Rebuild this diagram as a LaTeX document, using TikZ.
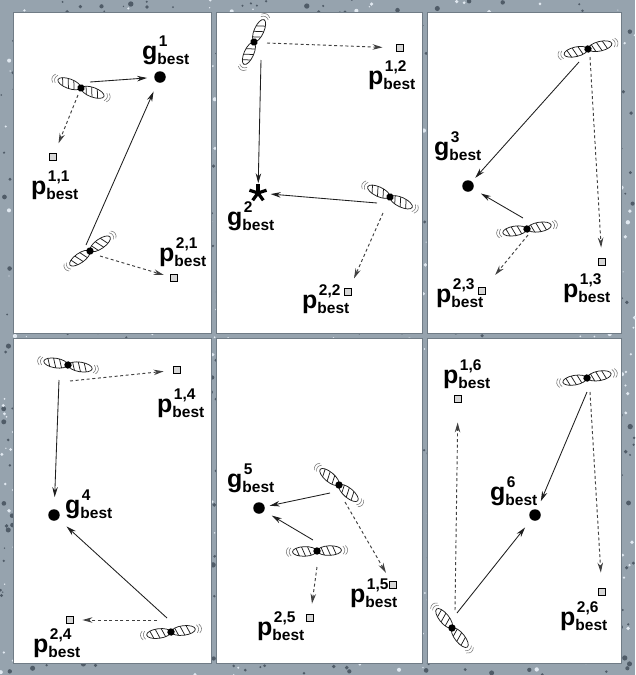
\documentclass[tikz,border=0pt]{standalone}
\usepackage{fontspec}
\setmainfont{Liberation Sans}
\usetikzlibrary{arrows.meta,calc}

\definecolor{framegray}{RGB}{150,163,174}
\definecolor{darkspeck}{RGB}{80,92,104}
\definecolor{lightspeck}{RGB}{224,232,240}
\definecolor{panelline}{RGB}{112,124,134}
\definecolor{ink}{RGB}{30,30,30}
\definecolor{boxfill}{RGB}{215,215,215}

% label of the form  letter^{sup}_{best}
\newcommand\bestlabel[2]{\fontsize{25}{25}\selectfont#1\fontsize{15.5}{15.5}\selectfont\rlap{\kern1.5pt\raisebox{12.5pt}{#2}}\raisebox{-5pt}{best}}

\tikzset{
  panel/.style={fill=white, draw=panelline, line width=1pt},
  gdot/.style={circle, fill=black, minimum size=11.5pt, inner sep=0pt},
  gstar/.style={circle, minimum size=17pt, inner sep=0pt},
  pbox/.style={rectangle, draw=black, fill=boxfill, line width=1.4pt, minimum size=7.5pt, inner sep=0pt},
  agent/.style={circle, minimum size=8pt, inner sep=0pt},
  lbl/.style={anchor=base west, inner sep=0pt, font=\bfseries},
  pull/.style={draw=ink, line width=0.85pt, -{Stealth[length=10pt,width=5.5pt]}},
  memory/.style={draw=ink!85, line width=0.95pt, dash pattern=on 3pt off 2.6pt, -{Stealth[length=10pt,width=5.5pt]}},
  wingline/.style={draw=ink, line width=0.75pt},
  hatch/.style={draw=ink, line width=0.75pt},
  trail/.style={draw=ink!60, line width=0.55pt},
  bird/.pic={
    \foreach \s in {-1,1}{
      \begin{scope}[xshift=\s*12.5pt]
        \draw[wingline] (0,0) ellipse [x radius=12, y radius=4.8];
        \clip (0,0) ellipse [x radius=12, y radius=4.8];
        \draw[hatch] (-9,-5) -- (-5,5) (-3,-5) -- (1,5) (3,-5) -- (7,5);
      \end{scope}
    }
    \draw[trail] (26,-4) .. controls (28.5,-1.5) and (28.5,1.5) .. (26,4);
    \draw[trail] (28.5,-4.5) .. controls (31.5,-1.5) and (31.5,1.5) .. (28.5,4.5);
    \draw[trail] (-26,-4) .. controls (-28.5,-1.5) and (-28.5,1.5) .. (-26,4);
    \draw[trail] (-28.5,-4.5) .. controls (-31.5,-1.5) and (-31.5,1.5) .. (-28.5,4.5);
    \fill[black] (0,0) circle (3.7);
  }
}

\begin{document}
\begin{tikzpicture}[x=1pt,y=-1pt]
\useasboundingbox (0,0) rectangle (635,675);

% speckled frame
\fill[framegray] (0,0) rectangle (635,675);
\pgfmathsetseed{11}
\foreach \i in {1,...,1100}{
  \pgfmathsetmacro\rx{rnd*635}
  \pgfmathsetmacro\ry{rnd*675}
  \pgfmathsetmacro\rr{0.8+rnd*1.9}
  \fill[darkspeck] (\rx,\ry) circle (\rr);
}
\foreach \i in {1,...,900}{
  \pgfmathsetmacro\rx{rnd*635}
  \pgfmathsetmacro\ry{rnd*675}
  \pgfmathsetmacro\rr{0.6+rnd*1.6}
  \fill[lightspeck] (\rx,\ry) circle (\rr);
}

% six panels
\path[panel] (13,12) rectangle (211,333);
\path[panel] (216,12) rectangle (422,333);
\path[panel] (427,12) rectangle (621,333);
\path[panel] (13,338) rectangle (211,663);
\path[panel] (216,338) rectangle (422,663);
\path[panel] (427,338) rectangle (621,663);

% ---------- panel 1 ----------
\node[gdot] (g1) at (160,77) {};
\node[pbox] (p11) at (53,157) {};
\node[pbox] (p21) at (174,278) {};
\node[agent] (a1) at (81,88) {};
\node[agent] (b1) at (90,251) {};
\pic[rotate=-20] at (a1) {bird};
\pic[rotate=35] at (b1) {bird};
\node[lbl] (lg1) at (142,59) {\bestlabel{g}{1}};
\node[lbl] (lp11) at (31,194) {\bestlabel{p}{1,1}};
\node[lbl] (lp21) at (159,261) {\bestlabel{p}{2,1}};
\draw[pull, shorten >=7pt] ($(a1)+(9,-6)$) -- (g1);
\draw[memory, shorten >=10pt] ($(a1)+(-3,7)$) -- (p11);
\draw[pull, shorten >=10pt] ($(b1)+(-4,-6)$) -- (g1);
\draw[memory, shorten >=6pt] ($(b1)+(10,5)$) -- (p21);

% ---------- panel 2 ----------
\node[gstar] (g2) at (258,193) {};
\foreach \a in {-90,-18,54,126,198}
  \draw[line width=3.2pt, black] (g2.center) -- ++(\a:9);
\node[pbox] (p12) at (400,48) {};
\node[pbox] (p22) at (348,292) {};
\node[agent] (t2) at (254,42) {};
\node[agent] (r2) at (390,197) {};
\pic[rotate=66] at (t2) {bird};
\pic[rotate=-25] at (r2) {bird};
\node[lbl] (lg2) at (227,225) {\bestlabel{g}{2}};
\node[lbl] (lp12) at (368,84) {\bestlabel{p}{1,2}};
\node[lbl] (lp22) at (302,308) {\bestlabel{p}{2,2}};
\draw[memory, shorten >=13pt] ($(t2)+(13,1)$) -- (p12);
\draw[pull, shorten >=1pt] ($(t2)+(7,18)$) -- (g2);
\draw[pull, shorten >=4pt] ($(r2)+(-13,6)$) -- (g2);
\draw[memory, shorten >=10pt] ($(r2)+(-7,16)$) -- (p22);

% ---------- panel 3 ----------
\node[gdot] (g3) at (468,186) {};
\node[pbox] (p13) at (602,262) {};
\node[pbox] (p23) at (482,291) {};
\node[agent] (t3) at (588,49) {};
\node[agent] (b3) at (527,229) {};
\pic[rotate=13] at (t3) {bird};
\pic[rotate=9] at (b3) {bird};
\node[lbl] (lg3) at (434,155) {\bestlabel{g}{3}};
\node[lbl] (lp13) at (563,297) {\bestlabel{p}{1,3}};
\node[lbl] (lp23) at (436,302) {\bestlabel{p}{2,3}};
\draw[pull, shorten >=5pt] ($(t3)+(-9,13)$) -- (g3);
\draw[memory, shorten >=10pt] ($(t3)+(2,8)$) -- (p13);
\draw[pull, shorten >=9pt] ($(b3)+(-4,-11)$) -- (g3);
\draw[memory, shorten >=15pt] ($(b3)+(1,6)$) -- (p23);

% ---------- panel 4 ----------
\node[gdot] (g4) at (54,515) {};
\node[pbox] (p14) at (177,370) {};
\node[pbox] (p24) at (70,620) {};
\node[agent] (t4) at (68,365) {};
\node[agent] (b4) at (171,632) {};
\pic[rotate=-9] at (t4) {bird};
\pic[rotate=7] at (b4) {bird};
\node[lbl] (lg4) at (65,513) {\bestlabel{g}{4}};
\node[lbl] (lp14) at (157,412) {\bestlabel{p}{1,4}};
\node[lbl] (lp24) at (33,652) {\bestlabel{p}{2,4}};
\draw[memory, shorten >=9pt] ($(t4)+(2,16)$) -- (p14);
\draw[pull, shorten >=12pt] ($(t4)+(-9,15)$) -- (g4);
\draw[pull, shorten >=11pt] ($(b4)+(-4,-14)$) -- (g4);
\draw[memory, shorten >=8pt] ($(b4)+(-14,-12)$) -- (p24);

% ---------- panel 5 ----------
\node[gdot] (g5) at (259,508) {};
\node[pbox] (p15) at (393,585) {};
\node[pbox] (p25) at (310,618) {};
\node[agent] (u5) at (339,485) {};
\node[agent] (l5) at (317,551) {};
\pic[rotate=-40] at (u5) {bird};
\pic[rotate=2] at (l5) {bird};
\node[lbl] (lg5) at (227,487) {\bestlabel{g}{5}};
\node[lbl] (lp15) at (350,602) {\bestlabel{p}{1,5}};
\node[lbl] (lp25) at (257,635) {\bestlabel{p}{2,5}};
\draw[pull, shorten >=5pt] ($(u5)+(-9,8)$) -- (g5);
\draw[memory, shorten >=9pt] ($(u5)+(6,17)$) -- (p15);
\draw[pull, shorten >=9pt] ($(l5)+(-4,-11)$) -- (g5);
\draw[memory, shorten >=10pt] ($(l5)+(0,16)$) -- (p25);

% ---------- panel 6 ----------
\node[gdot] (g6) at (535,515) {};
\node[pbox] (p16) at (458,399) {};
\node[pbox] (p26) at (602,592) {};
\node[agent] (t6) at (587,378) {};
\node[agent] (b6) at (452,628) {};
\pic[rotate=10] at (t6) {bird};
\pic[rotate=-51] at (b6) {bird};
\node[lbl] (lg6) at (490,500) {\bestlabel{g}{6}};
\node[lbl] (lp16) at (443,383) {\bestlabel{p}{1,6}};
\node[lbl] (lp26) at (560,625) {\bestlabel{p}{2,6}};
\draw[pull, shorten >=9pt] ($(t6)+(0,14)$) -- (g6);
\draw[memory, shorten >=15pt] ($(t6)+(3,14)$) -- (p26);
\draw[pull, shorten >=10pt] ($(b6)+(5,-15)$) -- (g6);
\draw[memory, shorten >=19pt] ($(b6)+(3,-18)$) -- (p16);
\end{tikzpicture}
\end{document}
